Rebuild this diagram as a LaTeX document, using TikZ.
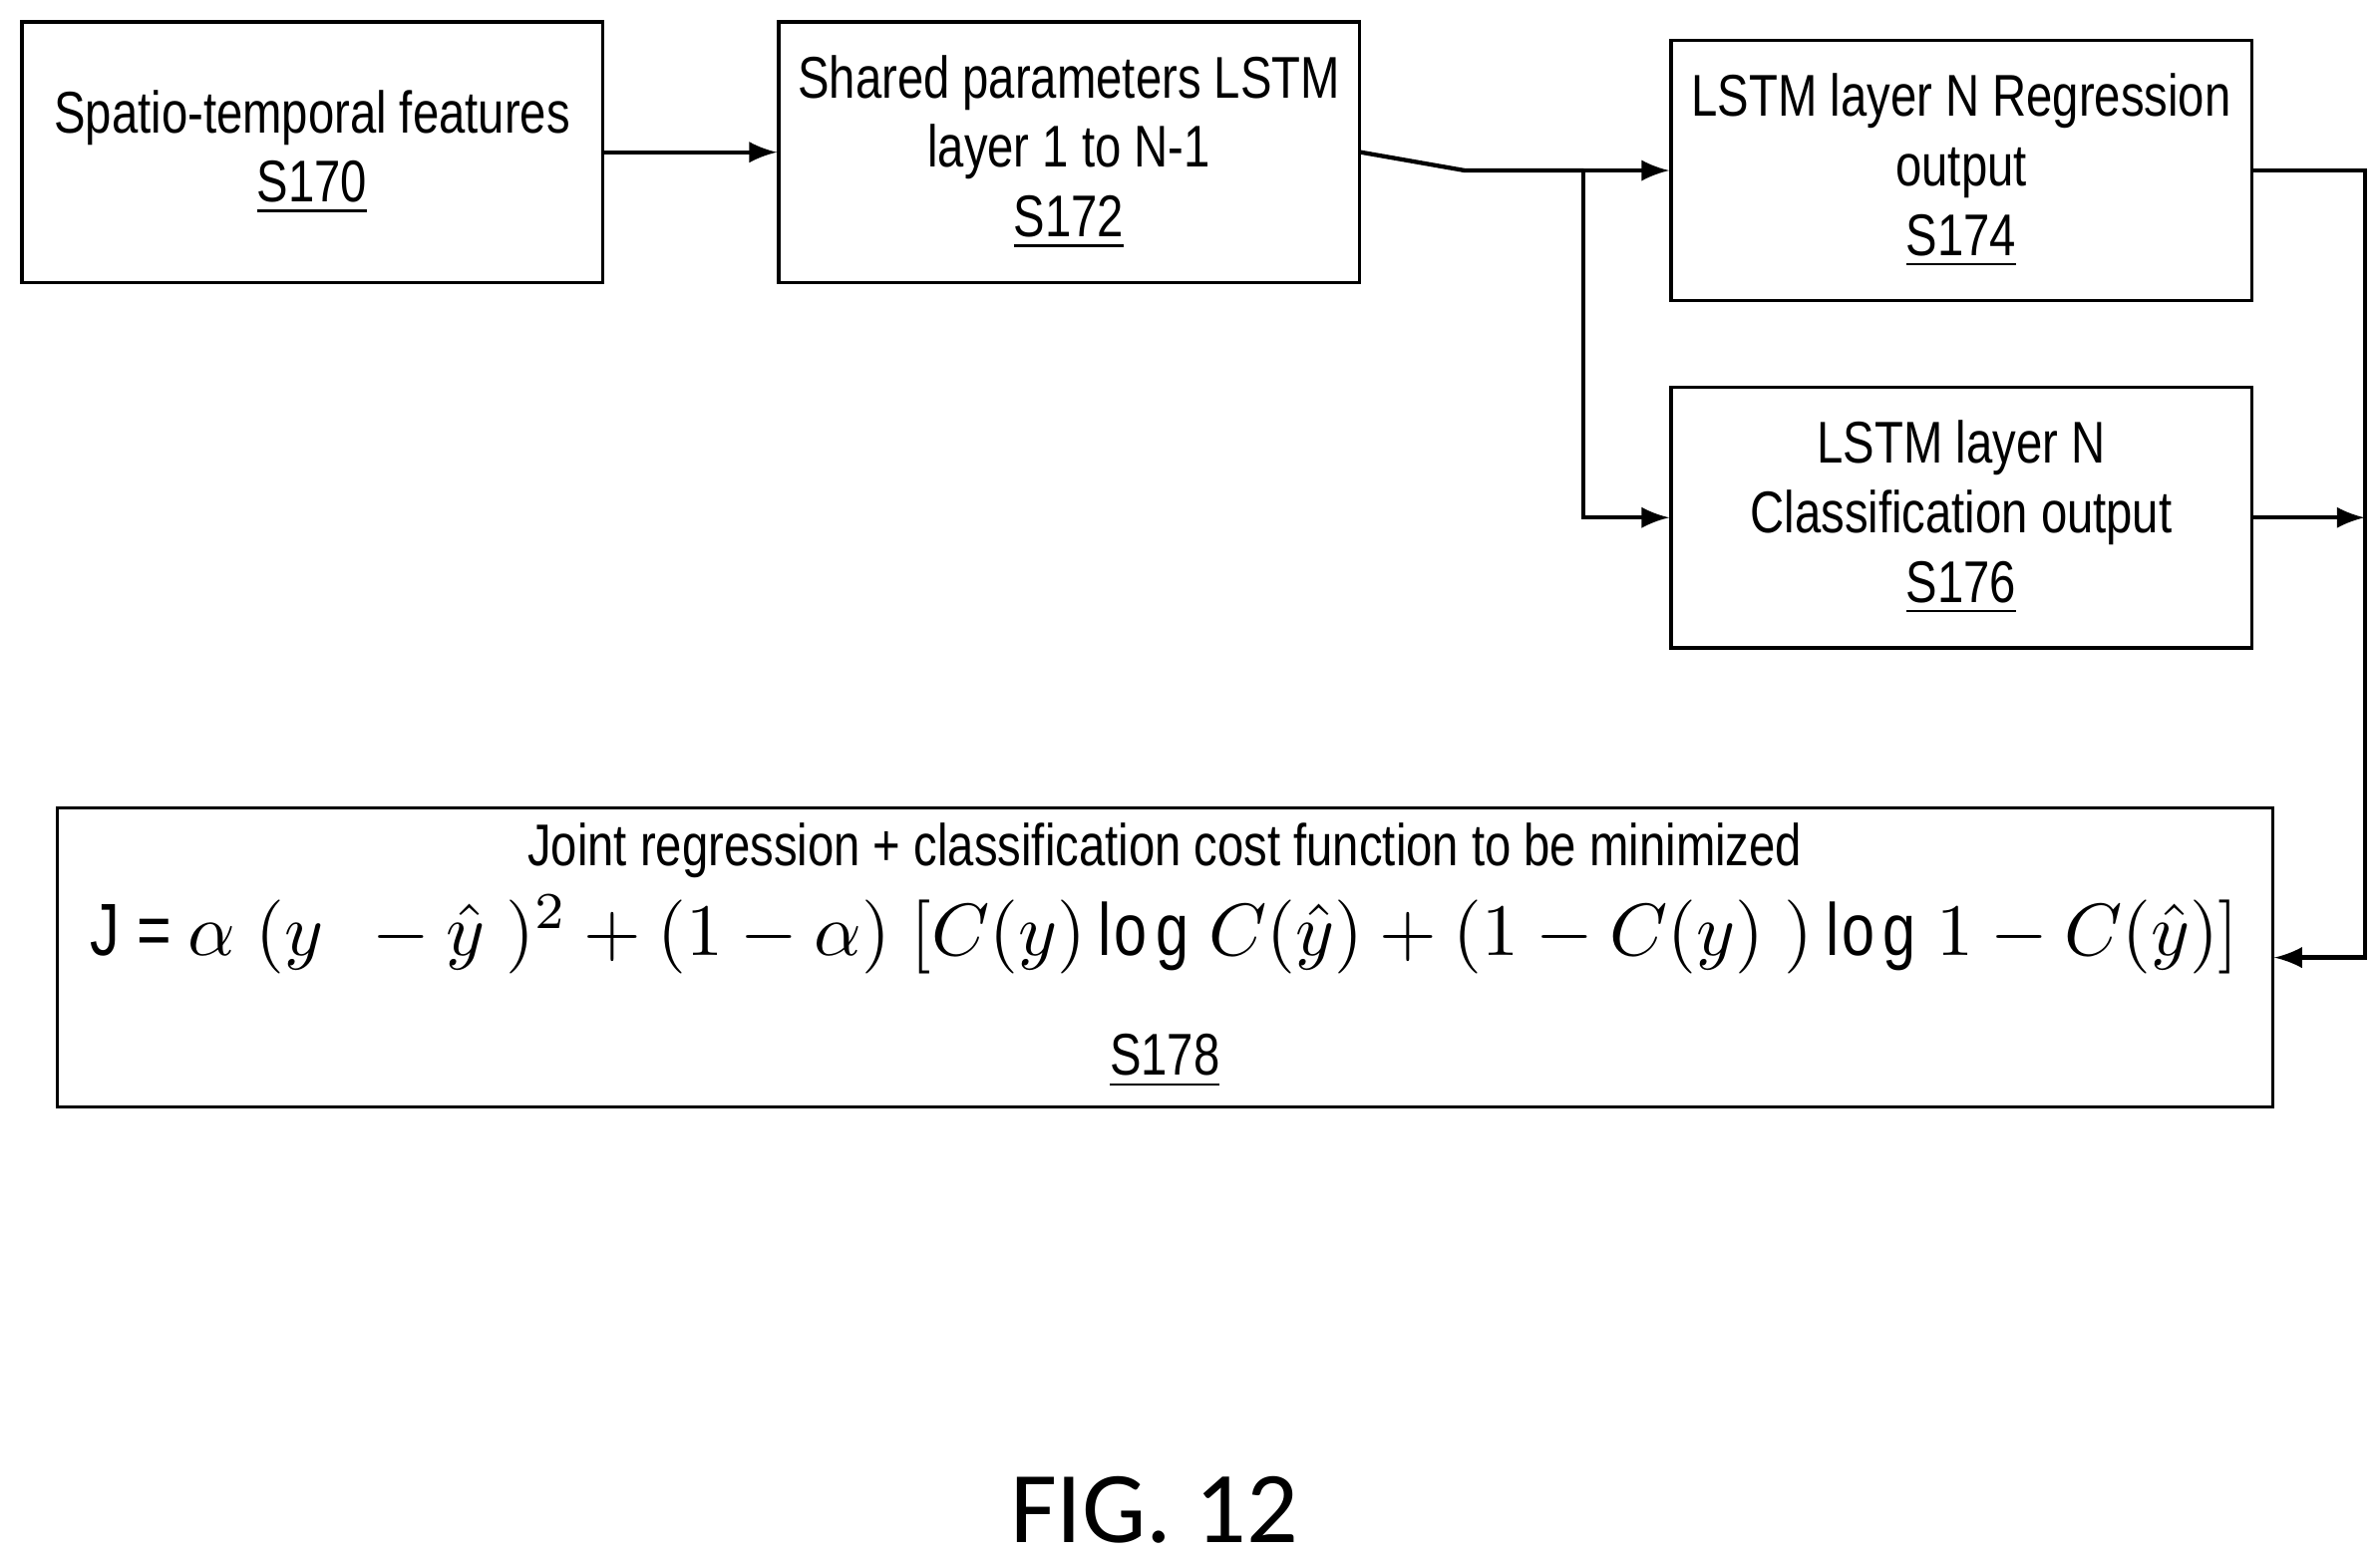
\documentclass[tikz,border=0pt]{standalone}
\usepackage{amsmath}
\usepackage{fontspec}
\setmainfont{Liberation Sans}[FakeStretch=0.8]
\newfontfamily\figfont{Carlito}
\usepackage{tikz}
\usetikzlibrary{positioning}

\begin{document}
\begin{tikzpicture}[x=0.01cm,y=-0.01cm]
  \tikzset{
box/.style={draw,
  line width=0.6pt,
    inner sep=0.05cm,
    minimum width=3.81cm,
    minimum height=1.71cm,
    font=\fontsize{11}{13}\selectfont,
    align=center},
}
  \useasboundingbox (0,0) rectangle (1563,1024);

  % Nodes
  \node [box] (feat) at (205,100) {Spatio-temporal features\\\underline{S170}};
  \node [box] (shared) at (702,100) {Shared parameters LSTM\\layer 1 to N-1\\\underline{S172}};
  \node [box] (regr) at (1288,112) {LSTM layer N Regression\\output\\\underline{S174}};
  \node [box] (class) at (1288,340) {LSTM layer N\\Classification output\\\underline{S176}};
  \node [box, minimum width=14.54cm, minimum height=1.96cm] (cost) at (765,629) {};
  \node [font=\fontsize{11}{13}\selectfont] (costtitle) at (765,559) {Joint regression + classification cost function to be minimized};
  \node [inner sep=0pt] (costeq) at (765,614) {\resizebox{14.1cm}{!}{J = $\alpha\;(y\;\,-\hat{y}\;)^2+(1-\alpha)\;[C(y)\log C(\hat{y})+(1-C(y)\;)\log 1-C(\hat{y})]$}};
  \node [font=\fontsize{11}{13}\selectfont] (costlabel) at (765,697) {\underline{S178}};
  \node [font=\fontsize{19}{23}\figfont, inner sep=0pt] (fig) at (758,992) {FIG. 12};
  \coordinate (split) at (1040,112);
  \coordinate (merge) at (1553,340);

  % Edges
  \draw [-latex, line width=0.8pt] (feat.east) -- (shared.west);
  \draw [line width=0.8pt] (shared.east) -- (962,112) -- (split);
  \draw [-latex, line width=0.8pt] (split) -- (regr.west);
  \draw [-latex, line width=0.8pt] (split) |- (class.west);
  \draw [-latex, line width=0.8pt] (regr.east) -| (merge) |- (cost.east);
  \draw [-latex, line width=0.8pt] (class.east) -- (merge);
\end{tikzpicture}
\end{document}
